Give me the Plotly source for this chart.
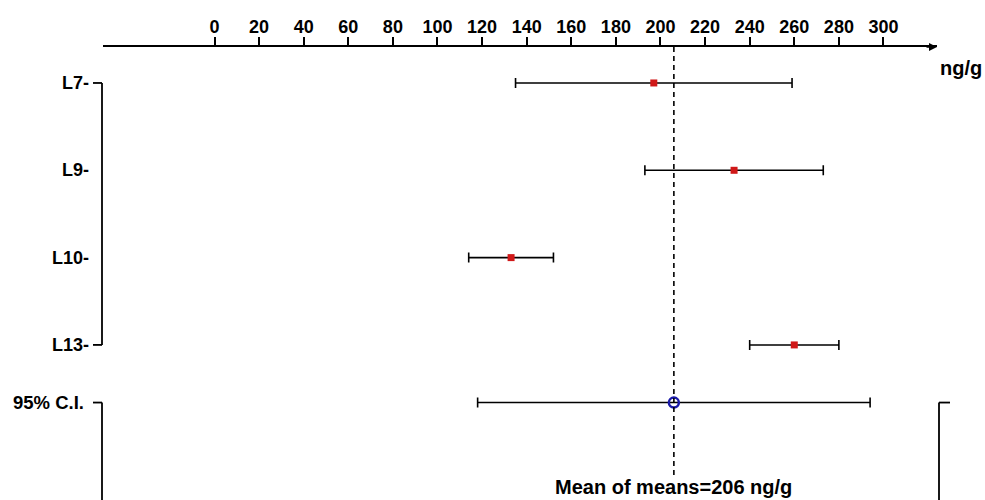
import plotly.graph_objects as go

# Study-level means and 95% limits (ng/g)
studies = ["L7", "L9", "L10", "L13"]
study_means = [197, 233, 133, 260]
study_lower = [135, 193, 114, 240]
study_upper = [259, 273, 152, 280]

# Pooled estimate
pooled_label = "95% C.I."
pooled_mean = 206
pooled_lower = 118
pooled_upper = 294

tick_values = list(range(0, 301, 20))
unit = "ng/g"

# Row layout (top to bottom)
study_rows = list(range(len(studies)))
pooled_row = study_rows[-1] + 0.66
Y_TOP, Y_BOT = -0.412, 4.776
X_MIN, X_MAX = -50, 324

FONT = "Liberation Sans, Arial, sans-serif"
L_MARGIN, R_MARGIN, T_MARGIN = 103, 48, 47
W, H = 985, 500
plot_w = W - L_MARGIN - R_MARGIN


def ypaper(r):
    return (Y_BOT - r) / (Y_BOT - Y_TOP)


def xpaper(px):
    return (px - L_MARGIN) / plot_w


fig = go.Figure()

fig.add_trace(go.Scatter(
    x=study_means, y=study_rows, mode="markers",
    marker=dict(symbol="square", size=7, color="#d01818"),
    error_x=dict(type="data", symmetric=False,
                 array=[u - m for u, m in zip(study_upper, study_means)],
                 arrayminus=[m - l for m, l in zip(study_means, study_lower)],
                 color="black", thickness=1.6, width=5),
    showlegend=False, hoverinfo="skip",
))

fig.add_trace(go.Scatter(
    x=[pooled_mean], y=[pooled_row], mode="markers",
    marker=dict(symbol="circle-open", size=10, color="#1a1aaa",
                line=dict(width=2.5, color="#1a1aaa")),
    error_x=dict(type="data", symmetric=False,
                 array=[pooled_upper - pooled_mean],
                 arrayminus=[pooled_mean - pooled_lower],
                 color="black", thickness=1.6, width=5),
    showlegend=False, hoverinfo="skip",
))

shapes = []
line_style = dict(color="black", width=1.8)
# mean-of-means reference line
shapes.append(dict(type="line", xref="x", yref="paper",
                   x0=pooled_mean, x1=pooled_mean, y0=1, y1=0.05,
                   line=dict(color="black", width=1.6, dash="5px,4px")))
# left bracket spanning the studies
xa, xb = xpaper(93), xpaper(102)
shapes.append(dict(type="line", xref="paper", yref="paper", x0=xb, x1=xb,
                   y0=ypaper(study_rows[0]), y1=ypaper(study_rows[-1]), line=line_style))
for r in (study_rows[0], study_rows[-1]):
    shapes.append(dict(type="line", xref="paper", yref="paper", x0=xa, x1=xb,
                       y0=ypaper(r), y1=ypaper(r), line=line_style))
# left bracket for the pooled row
shapes.append(dict(type="line", xref="paper", yref="paper", x0=xa, x1=xb,
                   y0=ypaper(pooled_row), y1=ypaper(pooled_row), line=line_style))
shapes.append(dict(type="line", xref="paper", yref="paper", x0=xb, x1=xb,
                   y0=ypaper(pooled_row), y1=-0.02, line=line_style))
# right bracket for the pooled row
xr0, xr1 = xpaper(939), xpaper(950)
shapes.append(dict(type="line", xref="paper", yref="paper", x0=xr0, x1=xr0,
                   y0=ypaper(pooled_row), y1=-0.02, line=line_style))
shapes.append(dict(type="line", xref="paper", yref="paper", x0=xr0, x1=xr1,
                   y0=ypaper(pooled_row), y1=ypaper(pooled_row), line=line_style))

annotations = []
for name, r in zip(studies, study_rows):
    annotations.append(dict(text=f"<b>{name}-</b>", xref="paper", yref="y",
                            x=xpaper(91), y=r, xanchor="right", yanchor="middle",
                            showarrow=False, font=dict(family=FONT, size=18, color="black")))
annotations.append(dict(text=f"<b>{pooled_label}</b>", xref="paper", yref="y",
                        x=xpaper(86), y=pooled_row, xanchor="right", yanchor="middle",
                        showarrow=False, font=dict(family=FONT, size=18.5, color="black")))
annotations.append(dict(text=f"<b>{unit}</b>", xref="paper", yref="paper",
                        x=xpaper(938), y=1 - 21 / (H - T_MARGIN), xanchor="left", yanchor="middle",
                        showarrow=False, font=dict(family=FONT, size=20, color="black")))
annotations.append(dict(text=f"<b>Mean of means={pooled_mean} {unit}</b>", xref="x", yref="paper",
                        x=pooled_mean, y=(H - 487) / (H - T_MARGIN), xanchor="center", yanchor="middle",
                        showarrow=False, font=dict(family=FONT, size=20, color="black")))
# arrowhead at the end of the value axis
annotations.append(dict(text="", xref="x", yref="paper", x=X_MAX, y=1,
                        ax=-12, ay=0, showarrow=True, arrowhead=2, arrowsize=1,
                        arrowwidth=1.6, arrowcolor="black", standoff=0))

fig.update_layout(
    width=W, height=H,
    margin=dict(l=L_MARGIN, r=R_MARGIN, t=T_MARGIN, b=0, pad=0),
    plot_bgcolor="white", paper_bgcolor="white",
    shapes=shapes, annotations=annotations,
    xaxis=dict(side="top", range=[X_MIN, X_MAX], tickvals=tick_values,
               showline=True, linecolor="black", linewidth=1.6,
               ticks="outside", ticklen=8, tickwidth=1.6, tickcolor="black",
               ticklabelstandoff=-3,
               showgrid=False, zeroline=False, automargin=False,
               tickfont=dict(family=FONT, size=18, color="black", weight="bold")),
    yaxis=dict(range=[Y_BOT, Y_TOP], showticklabels=False, showgrid=False,
               zeroline=False, showline=False, ticks="", automargin=False),
)

fig.write_html("out.html")
